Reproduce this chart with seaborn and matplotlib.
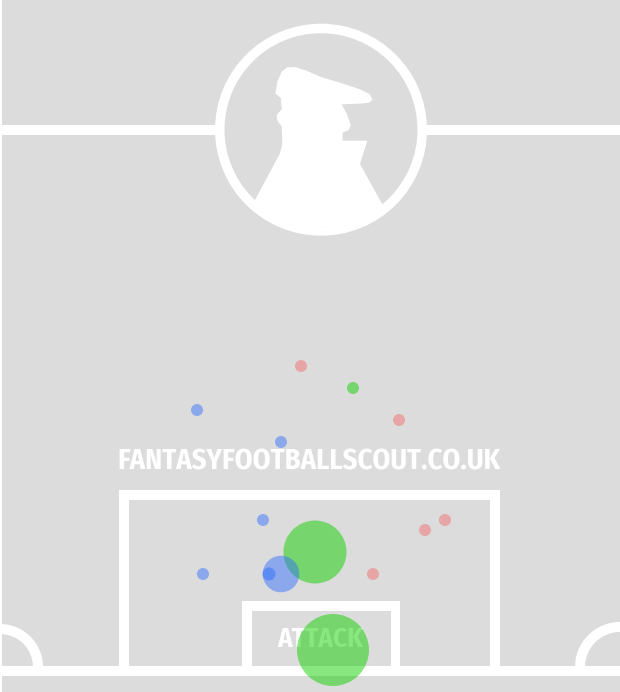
import matplotlib
matplotlib.use("Agg")
import matplotlib.pyplot as plt
import numpy as np
import pandas as pd
import seaborn as sns
from matplotlib.patches import Rectangle, Circle, Polygon, Wedge

# Shot positions (pitch pixels)
red_x = [301, 399, 445, 425, 373]
red_y = [366, 420, 520, 530, 574]
red_r = [6, 6, 6, 6, 6]
blue_x = [197, 281, 263, 203, 281, 269]
blue_y = [410, 442, 520, 574, 574, 574]
blue_r = [6, 6, 6, 6, 18.3, 6.5]
green_x = [353, 315, 333]
green_y = [388, 552, 650]
green_r = [6, 31.5, 36]

watermark = "FANTASYFOOTBALLSCOUT.CO.UK"
direction = "ATTACK"

groups = [
    ("green", green_x, green_y, green_r, "#14d000", 0.5),
    ("red", red_x, red_y, red_r, "#f76262", 0.45),
    ("blue", blue_x, blue_y, blue_r, "#2869ff", 0.45),
]

BG = "#dcdcdc"
W = "white"
sns.set_theme(style="white")
plt.rcParams["font.family"] = ["Fira Sans Condensed", "Roboto Condensed", "Liberation Sans", "DejaVu Sans"]

fig = plt.figure(figsize=(6.2, 6.92), dpi=100, facecolor=BG)
ax = fig.add_axes([0, 0, 1, 1])
ax.set_xlim(0, 620)
ax.set_ylim(692, 0)
ax.set_facecolor(BG)

def rect(x0, y0, x1, y1):
    ax.add_patch(Rectangle((x0, y0), x1 - x0, y1 - y0, fc=W, ec="none", zorder=1))

rect(0, 0, 2, 692)
rect(0, 125, 620, 135)
rect(0, 666, 620, 676)
# penalty box
rect(119, 490, 500, 500); rect(119, 490, 129, 670); rect(490, 490, 500, 670)
# six-yard box
rect(242, 601, 400, 611); rect(242, 601, 252, 670); rect(391, 601, 400, 670)
# corner arcs
ax.add_patch(Wedge((0, 667), 43, 270, 360, width=10, fc=W, ec="none", zorder=1))
ax.add_patch(Wedge((620, 667), 45, 180, 270, width=10, fc=W, ec="none", zorder=1))
# centre circle
ax.add_patch(Circle((321, 129.7), 106, fc=W, ec="none", zorder=1.1))
ax.add_patch(Circle((321, 129.7), 96.5, fc=BG, ec="none", zorder=1.2))

# silhouette (traced in zoom coords: px = zoom/3 + offset)
sil = np.array([
    (165,570),(240,430),(247,400),(245,350),(232,332),(230,315),(245,298),(243,265),
    (226,250),(232,215),(245,185),(262,172),(285,171),(320,182),(360,200),(420,218),
    (480,238),(508,252),(518,268),(508,278),(480,281),(425,283),(440,310),(452,345),
    (446,360),(428,368),(428,392),(502,392),(480,462),(548,585),(548,720),(165,720)
], dtype=float) / 3 + np.array([200, 10])
poly = Polygon(sil, closed=True, fc=W, ec="none", zorder=1.3)
ax.add_patch(poly)
poly.set_clip_path(Circle((321, 129.7), 97, transform=ax.transData))

ax.text(309, 462, watermark, color=W, fontsize=20.5, fontweight="bold",
        ha="center", va="center", zorder=1.5)
ax.text(320, 639, direction, color=W, fontsize=19.5, fontweight="bold",
        ha="center", va="center", zorder=1.5)

# marker area in points^2 from radius in pixels
for name, xs, ys, rs, colour, a in groups:
    d = pd.DataFrame({"x": xs, "y": ys, "area": [(2 * r * 72 / 100) ** 2 for r in rs]})
    sns.scatterplot(data=d, x="x", y="y", size="area", sizes={v: v for v in d["area"].unique()},
                    color=colour, alpha=a, linewidth=0, legend=False, ax=ax, zorder=3)

ax.set_xlim(0, 620)
ax.set_ylim(692, 0)
ax.axis("off")
fig.savefig("out.png", dpi=100, facecolor=BG)
